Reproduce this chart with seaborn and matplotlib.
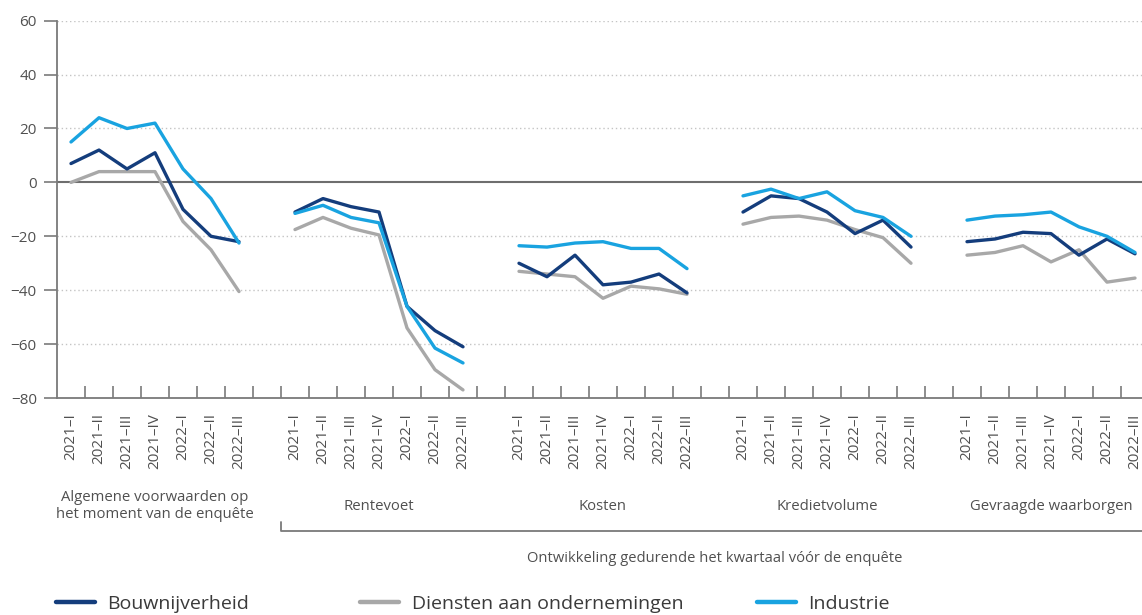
import numpy as np
import pandas as pd
import matplotlib
matplotlib.use("Agg")
import matplotlib.pyplot as plt
from matplotlib.transforms import blended_transform_factory
from matplotlib.lines import Line2D
import seaborn as sns

# Survey quarters shown inside every block
quarters = ["2021–I", "2021–II", "2021–III", "2021–IV", "2022–I", "2022–II", "2022–III"]

# Blocks of the survey (credit conditions)
groups = [
    "Algemene voorwaarden op\nhet moment van de enquête",
    "Rentevoet",
    "Kosten",
    "Kredietvolume",
    "Gevraagde waarborgen",
]

sectors = ["Bouwnijverheid", "Diensten aan ondernemingen", "Industrie"]

# Net percentages per sector, one list per block
bouwnijverheid = [
    [7, 12, 5, 11, -10, -20, -22],
    [-11, -6, -9, -11, -46, -55, -61],
    [-30, -35, -27, -38, -37, -34, -41],
    [-11, -5, -6, -11, -19, -14, -24],
    [-22, -21, -18.5, -19, -27, -21, -26.5],
]
diensten = [
    [0, 4, 4, 4, -14.5, -25, -40.5],
    [-17.5, -13, -17, -19.5, -54, -69.5, -77],
    [-33, -34, -35, -43, -38.5, -39.5, -41.5],
    [-15.5, -13, -12.5, -14, -17.5, -20.5, -30],
    [-27, -26, -23.5, -29.5, -25, -37, -35.5],
]
industrie = [
    [15, 24, 20, 22, 5, -6, -22.5],
    [-11.5, -8.5, -13, -15, -46, -61.5, -67],
    [-23.5, -24, -22.5, -22, -24.5, -24.5, -32],
    [-5, -2.5, -6, -3.5, -10.5, -13, -20],
    [-14, -12.5, -12, -11, -16.5, -20, -26],
]

yticks = [-80, -60, -40, -20, 0, 20, 40, 60]

bracket_title = "Ontwikkeling gedurende het kwartaal vóór de enquête"

colors = {
    "Bouwnijverheid": "#143d7c",
    "Diensten aan ondernemingen": "#a8a8a8",
    "Industrie": "#19a3e0",
}

# ---------------------------------------------------------------------------
sns.set_theme(style="white")
plt.rcParams["font.family"] = ["Open Sans", "DejaVu Sans"]

step = len(quarters) + 1          # one empty slot between blocks
n_slots = step * len(groups) - 1

rows = []
for sector, series in zip(sectors, [bouwnijverheid, diensten, industrie]):
    for g, vals in enumerate(series):
        for q, v in enumerate(vals):
            rows.append({"sector": sector, "block": g, "pos": g * step + q, "value": v})
df = pd.DataFrame(rows)

W, H = 1142, 615
fig = plt.figure(figsize=(W / 100, H / 100), dpi=100)
left, right_px, top, bottom = 57, 57 + 28 * n_slots, 20.7, 398
ax = fig.add_axes([left / W, 1 - bottom / H, (right_px - left) / W, (bottom - top) / H])

axis_grey = "#7a7a7a"
text_grey = "#505050"

# grid: dotted lines, solid zero line
for v in yticks:
    if v == 0:
        ax.axhline(v, color="#6e6e6e", lw=1.5, zorder=1)
    elif v != yticks[0]:
        ax.axhline(v, color="#c4c4c4", lw=1.0, ls=(0, (1, 2)), zorder=0)

draw_order = ["Diensten aan ondernemingen", "Bouwnijverheid", "Industrie"]
sns.lineplot(
    data=df, x="pos", y="value", hue="sector", units="block", estimator=None,
    hue_order=draw_order, palette=colors, linewidth=2.4, legend=False,
    sort=False, ax=ax, zorder=3,
)

ax.set_xlim(-0.5, n_slots - 0.5)
ax.set_ylim(yticks[0], yticks[-1])
ax.set_xlabel("")
ax.set_ylabel("")

# x axis: labels at quarter centres, inward ticks at slot borders
centres, labels = [], []
for g in range(len(groups)):
    for q, lab in enumerate(quarters):
        centres.append(g * step + q)
        labels.append(lab)
ax.set_xticks(centres)
ax.set_xticklabels(labels, rotation=90, fontsize=11, color=text_grey)
ax.tick_params(axis="x", which="major", length=0, pad=11)
ax.set_xticks(np.arange(0.5, n_slots - 0.5, 1), minor=True)
ax.tick_params(axis="x", which="minor", bottom=True, direction="in", length=9,
               width=1.2, color=axis_grey)

ax.set_yticks(yticks)
ax.set_yticklabels([str(v) if v >= 0 else "−" + str(-v) for v in yticks], fontsize=11, color=text_grey)
ax.tick_params(axis="y", direction="out", length=9.5, width=1.2, color=axis_grey, pad=5, left=True)

for side in ["top", "right"]:
    ax.spines[side].set_visible(False)
for side in ["left", "bottom"]:
    ax.spines[side].set_color(axis_grey)
    ax.spines[side].set_linewidth(1.3)

# block titles below the quarter labels
tr = blended_transform_factory(ax.transData, fig.transFigure)
for g, name in enumerate(groups):
    ax.text(g * step + (len(quarters) - 1) / 2, 1 - 506 / H, name, transform=tr,
            ha="center", va="center", fontsize=10.7, color=text_grey,
            linespacing=1.15, clip_on=False)

# bracket covering the blocks that describe the past quarter
x0 = step - 0.5
x1 = n_slots + 1
yb = 1 - 531 / H
ax.plot([x0, x0, x1], [1 - 522 / H, yb, yb], transform=tr, color=axis_grey,
        lw=1.3, clip_on=False)
ax.text((x0 + n_slots - 0.5) / 2, 1 - 558 / H, bracket_title, transform=tr,
        ha="center", va="center", fontsize=10.6, color=text_grey, clip_on=False)

# legend entries
legend_x = [56, 360, 757]
for sector, lx in zip(sectors, legend_x):
    handle = Line2D([], [], color=colors[sector], lw=3.2)
    fig.legend([handle], [sector], loc="center left", bbox_to_anchor=(lx / W, 1 - 604 / H),
               frameon=False, fontsize=14, handlelength=2.0, handletextpad=0.65,
               borderpad=0, borderaxespad=0, labelcolor="#3a3a3a")

fig.savefig("out.png", dpi=100)
